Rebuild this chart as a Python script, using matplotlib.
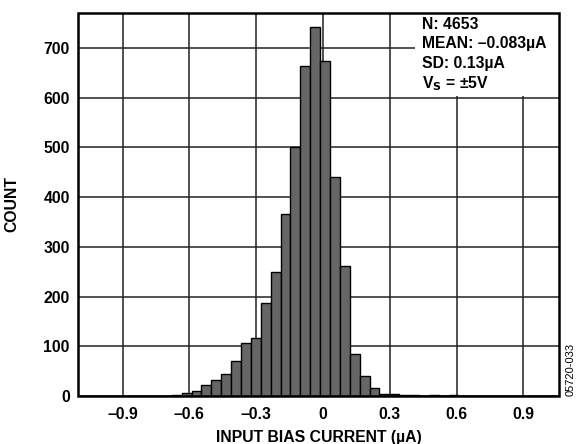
import numpy as np
import matplotlib
matplotlib.use("Agg")
import matplotlib.pyplot as plt

plt.rcParams['font.family'] = ['Liberation Sans', 'DejaVu Sans']
plt.rcParams['font.weight'] = 'bold'

# histogram data
bin_start = -0.679      # left edge of the first bar (uA)
bin_width = 0.0444      # bar width (uA)
counts = [3, 7, 11, 23, 33, 45, 70, 106, 116, 187, 250, 365, 500, 663, 741,
          673, 441, 262, 84, 40, 17, 5, 4, 2, 2, 0, 2, 0, 2]

xticks = [-0.9, -0.6, -0.3, 0, 0.3, 0.6, 0.9]
xtick_labels = ['\u20130.9', '\u20130.6', '\u20130.3', '0', '0.3', '0.6', '0.9']
yticks = [0, 100, 200, 300, 400, 500, 600, 700]

stats_lines = ['N: 4653', 'MEAN: \u20130.083\u00b5A', 'SD: 0.13\u00b5A', 'V$_\\mathbf{S}$ = \u00b15V']

fs = 11.3

fig = plt.figure(figsize=(5.79, 4.44), dpi=100)
ax = fig.add_axes([0.1347, 0.1081, 0.9655 - 0.1347, 0.9707 - 0.1081])

lefts = bin_start + bin_width * np.arange(len(counts))
ax.bar(lefts, counts, width=bin_width, align='edge', color='#666666',
       edgecolor='black', linewidth=1.0, zorder=3)

ax.set_xlim(-1.1, 1.06)
ax.set_ylim(0, 770)
ax.set_xticks(xticks)
ax.set_xticklabels(xtick_labels)
ax.set_yticks(yticks)
ax.tick_params(axis='both', length=0, labelsize=fs)
ax.tick_params(axis='x', pad=8)
ax.tick_params(axis='y', pad=6)
for lab in ax.get_xticklabels() + ax.get_yticklabels():
    lab.set_fontweight('bold')

ax.grid(True, color='#222222', linewidth=1.1, zorder=0)
ax.set_axisbelow(True)
for sp in ax.spines.values():
    sp.set_visible(False)

# frame drawn as one patch so all four sides show
ax.add_patch(plt.Rectangle((0, 0), 1, 1, transform=ax.transAxes, fill=False,
                           edgecolor='black', linewidth=1.8, clip_on=False, zorder=6))

ax.set_xlabel('INPUT BIAS CURRENT (\u00b5A)', fontsize=fs, fontweight='bold', labelpad=6)
ax.set_ylabel('COUNT', fontsize=fs, fontweight='bold', labelpad=17)

# white box holding the statistics
ax.add_patch(plt.Rectangle((0.70, 0.783), 0.30, 0.217, transform=ax.transAxes,
                           facecolor='white', edgecolor='none', zorder=2))
for i, s in enumerate(stats_lines):
    ax.text(0.715, 0.971 - i * 0.0515, s, transform=ax.transAxes, fontsize=fs,
            fontweight='bold', va='center', ha='left', zorder=5)

fig.text(0.985, 0.167, '05720-033', rotation=90, fontsize=8, fontweight='normal',
         ha='center', va='center')

fig.savefig('out.png', dpi=100)
